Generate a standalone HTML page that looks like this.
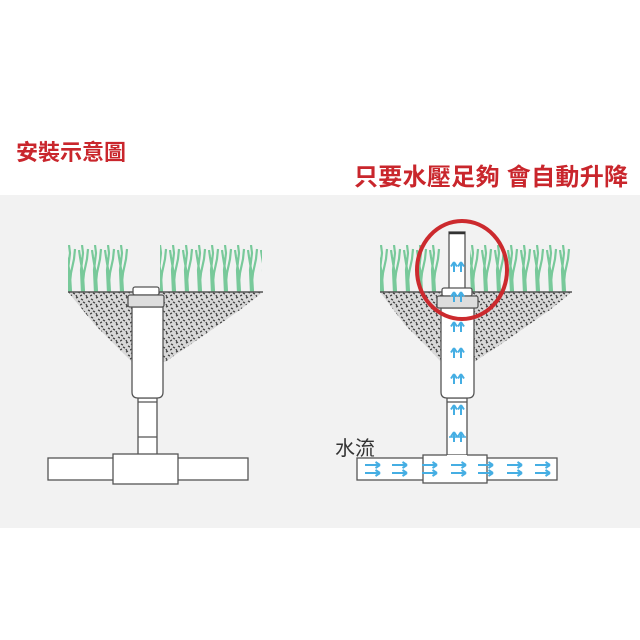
<!DOCTYPE html>
<html><head><meta charset="utf-8"><style>
html,body{margin:0;padding:0;background:#fff;width:640px;height:640px;overflow:hidden}
</style></head><body>
<svg width="640" height="640" viewBox="0 0 640 640" xmlns="http://www.w3.org/2000/svg">
<defs>
<pattern id="grass" x="0" y="245" width="13" height="47" patternUnits="userSpaceOnUse">
<path d="M4 47 L3 25 L5 8 L4 0 M4 47 L6 28 L9 14 L10 4 M6 47 L5 30 L2 12 L1 5" stroke="#78c99a" stroke-width="2.2" fill="none"/>
</pattern>
<pattern id="soil" x="0" y="0" width="10" height="9" patternUnits="userSpaceOnUse">
<rect width="10" height="9" fill="#d8d8d8"/>
<path d="M1 2 l2 1 M6 1 l2 -1 M8 4 l2 1 M3 5 l2 1 M6 7 l1 2 M0 8 l2 -1" stroke="#444" stroke-width="1.3"/>
</pattern>
<g id="ua"><path d="M0 0 L-3 4.5 M0 0 L3 4.5 M0 0 L0 10" stroke="#45aee3" stroke-width="2" fill="none"/></g>
<g id="ra"><path d="M0 0 L-4.5 -3 M0 0 L-4.5 3 M0 0 L-15 0" stroke="#45aee3" stroke-width="2" fill="none"/></g>
</defs>
<rect x="0" y="195" width="640" height="333" fill="#f2f2f2"/>
<text x="16" y="160" font-family="'Liberation Sans','Noto Sans CJK TC',sans-serif" font-size="22" font-weight="bold" fill="#c9262c">安裝示意圖</text>
<text x="354" y="185" font-family="'Liberation Sans','Noto Sans CJK TC',sans-serif" font-size="24" font-weight="bold" fill="#c9262c" textLength="274">只要水壓足夠 會自動升降</text>

<!-- LEFT -->
<rect x="68" y="245" width="62" height="47" fill="url(#grass)"/>
<rect x="160" y="245" width="102" height="47" fill="url(#grass)"/>
<path d="M68 292 L263 292 L240 310 L190 345 L165 362 L132 362 L120 350 L95 325 Z" fill="url(#soil)"/>
<line x1="68" y1="292" x2="263" y2="292" stroke="#555" stroke-width="1.5"/>
<g stroke="#555" stroke-width="1.3" fill="#fff">
<rect x="48" y="458" width="200" height="22"/>
<rect x="138" y="398" width="19" height="58"/>
<line x1="138" y1="402" x2="157" y2="402"/><line x1="138" y1="437" x2="157" y2="437"/>
<rect x="113" y="454" width="65" height="30"/>
<path d="M132 307 L163 307 L163 392 Q163 398 157 398 L138 398 Q132 398 132 392 Z"/>
<rect x="133" y="287" width="26" height="8" rx="2"/>
<rect x="128" y="295" width="36" height="12" rx="2" fill="#ddd"/>
</g>
<line x1="138" y1="456" x2="157" y2="456" stroke="#fff" stroke-width="2"/>

<!-- RIGHT -->
<rect x="380" y="245" width="62" height="47" fill="url(#grass)"/>
<rect x="470" y="245" width="102" height="47" fill="url(#grass)"/>
<path d="M380 292 L572 292 L550 310 L500 345 L474 362 L441 362 L430 350 L405 325 Z" fill="url(#soil)"/>
<line x1="380" y1="292" x2="572" y2="292" stroke="#555" stroke-width="1.5"/>
<g stroke="#555" stroke-width="1.3" fill="#fff">
<rect x="357" y="458" width="200" height="22"/>
<rect x="447" y="398" width="20" height="58"/>
<line x1="447" y1="402" x2="467" y2="402"/>
<rect x="423" y="455" width="64" height="28"/>
<path d="M441 308 L474 308 L474 392 Q474 398 468 398 L447 398 Q441 398 441 392 Z"/>
<rect x="449" y="232" width="16" height="58"/>
<rect x="442" y="288" width="30" height="8" rx="2"/>
<rect x="437" y="296" width="41" height="12" rx="2" fill="#ddd"/>
</g>
<line x1="449" y1="233" x2="465" y2="233" stroke="#333" stroke-width="2.5"/>
<line x1="447" y1="456" x2="467" y2="456" stroke="#fff" stroke-width="2"/>
<g>
<use href="#ua" x="454" y="262"/><use href="#ua" x="461" y="262"/>
<use href="#ua" x="454" y="292"/><use href="#ua" x="461" y="292"/>
<use href="#ua" x="454" y="322"/><use href="#ua" x="461" y="322"/>
<use href="#ua" x="454" y="348"/><use href="#ua" x="461" y="348"/>
<use href="#ua" x="454" y="374"/><use href="#ua" x="461" y="374"/>
<use href="#ua" x="454" y="405"/><use href="#ua" x="461" y="405"/>
<use href="#ua" x="454" y="432"/><use href="#ua" x="461" y="432"/>
</g>
<line x1="449" y1="437" x2="466" y2="437" stroke="#45aee3" stroke-width="1.6"/>
<g>
<use href="#ra" x="380" y="465"/><use href="#ra" x="407" y="465"/><use href="#ra" x="437" y="465"/><use href="#ra" x="466" y="465"/><use href="#ra" x="493" y="465"/><use href="#ra" x="522" y="465"/><use href="#ra" x="550" y="465"/>
<use href="#ra" x="380" y="473"/><use href="#ra" x="407" y="473"/><use href="#ra" x="437" y="473"/><use href="#ra" x="466" y="473"/><use href="#ra" x="493" y="473"/><use href="#ra" x="522" y="473"/><use href="#ra" x="550" y="473"/>
</g>
<ellipse cx="462" cy="270" rx="45" ry="49" fill="none" stroke="#cc2a2e" stroke-width="4"/>
<text x="335" y="455" font-family="'Liberation Sans','Noto Sans CJK TC',sans-serif" font-size="20" fill="#333">水流</text>
</svg>
</body></html>
